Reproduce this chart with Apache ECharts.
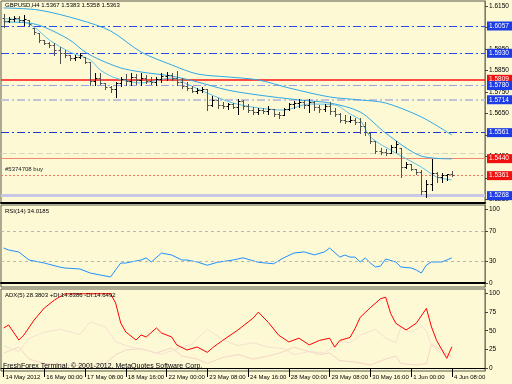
<!DOCTYPE html>
<html><head><meta charset="utf-8">
<script src="https://cdn.jsdelivr.net/npm/echarts@6/dist/echarts.min.js"></script>
<style>html,body{margin:0;padding:0;background:#FDF9D5;}#c{width:512px;height:384px;}</style>
</head><body><div id="c"></div>
<script>
const FONT = "'Liberation Sans', Arial, sans-serif";
const timeLabels = ['14 May 2012','16 May 00:00','17 May 08:00','18 May 16:00','22 May 00:00','23 May 08:00','24 May 16:00','28 May 00:00','29 May 08:00','30 May 16:00','1 Jun 00:00','4 Jun 08:00'];
const priceTicks = [1.5250,1.5350,1.5450,1.5550,1.5650,1.5750,1.5850,1.5950,1.6050,1.6150];
const rsiTicks = [0,30,70,100];
const adxTicks = [0,25,50,75,100];
const rsiLevels = [70,30];
// [open, high, low, close] per H4 bar
const bars = [
[1.6094,1.6113,1.6052,1.6080],[1.6080,1.6099,1.6076,1.6090],[1.6090,1.6104,1.6080,1.6094],[1.6094,1.6104,1.6076,1.6085],
[1.6085,1.6108,1.6062,1.6090],[1.6085,1.6085,1.6062,1.6066],[1.6048,1.6048,1.6020,1.6029],[1.6024,1.6024,1.5983,1.5992],
[1.5992,1.5992,1.5973,1.5978],[1.5978,1.5983,1.5959,1.5969],[1.5969,1.5978,1.5922,1.5945],[1.5945,1.5959,1.5885,1.5931],
[1.5931,1.5945,1.5913,1.5922],[1.5922,1.5922,1.5899,1.5908],[1.5908,1.5922,1.5899,1.5913],[1.5913,1.5931,1.5908,1.5922],
[1.5913,1.5913,1.5885,1.5890],[1.5890,1.5890,1.5783,1.5801],[1.5801,1.5838,1.5783,1.5815],[1.5815,1.5838,1.5787,1.5792],
[1.5792,1.5792,1.5764,1.5773],[1.5773,1.5778,1.5750,1.5764],[1.5764,1.5797,1.5727,1.5792],[1.5792,1.5820,1.5778,1.5810],
[1.5810,1.5834,1.5783,1.5801],[1.5801,1.5838,1.5783,1.5820],[1.5820,1.5834,1.5787,1.5806],[1.5806,1.5838,1.5783,1.5815],
[1.5815,1.5829,1.5792,1.5801],[1.5801,1.5820,1.5787,1.5797],[1.5797,1.5820,1.5783,1.5810],[1.5810,1.5838,1.5797,1.5824],
[1.5824,1.5843,1.5806,1.5829],[1.5829,1.5838,1.5806,1.5815],[1.5815,1.5848,1.5783,1.5797],[1.5797,1.5815,1.5769,1.5778],
[1.5778,1.5797,1.5759,1.5769],[1.5769,1.5778,1.5750,1.5755],[1.5755,1.5769,1.5745,1.5759],[1.5759,1.5773,1.5750,1.5764],
[1.5764,1.5764,1.5666,1.5690],[1.5690,1.5732,1.5685,1.5713],[1.5713,1.5722,1.5676,1.5690],[1.5690,1.5704,1.5676,1.5685],
[1.5685,1.5699,1.5671,1.5694],[1.5694,1.5699,1.5676,1.5680],[1.5680,1.5718,1.5648,1.5708],[1.5708,1.5713,1.5671,1.5685],
[1.5685,1.5694,1.5657,1.5666],[1.5666,1.5680,1.5648,1.5657],[1.5657,1.5676,1.5648,1.5666],[1.5666,1.5676,1.5652,1.5662],
[1.5662,1.5685,1.5648,1.5671],[1.5671,1.5671,1.5638,1.5648],[1.5648,1.5657,1.5629,1.5643],[1.5643,1.5676,1.5643,1.5671],
[1.5671,1.5699,1.5666,1.5694],[1.5694,1.5708,1.5676,1.5699],[1.5699,1.5718,1.5680,1.5704],[1.5704,1.5713,1.5676,1.5690],
[1.5690,1.5718,1.5657,1.5704],[1.5704,1.5708,1.5666,1.5680],[1.5680,1.5690,1.5657,1.5671],[1.5671,1.5694,1.5662,1.5685],
[1.5685,1.5704,1.5648,1.5662],[1.5662,1.5676,1.5638,1.5648],[1.5648,1.5652,1.5611,1.5620],[1.5620,1.5643,1.5606,1.5615],
[1.5615,1.5638,1.5611,1.5620],[1.5620,1.5629,1.5601,1.5611],[1.5611,1.5629,1.5559,1.5590],[1.5590,1.5611,1.5550,1.5564],
[1.5559,1.5559,1.5513,1.5522],[1.5522,1.5522,1.5466,1.5476],[1.5476,1.5490,1.5462,1.5471],[1.5471,1.5485,1.5457,1.5466],
[1.5466,1.5504,1.5466,1.5495],[1.5495,1.5522,1.5471,1.5508],[1.5490,1.5490,1.5355,1.5401],[1.5401,1.5425,1.5397,1.5415],
[1.5415,1.5415,1.5387,1.5392],[1.5392,1.5392,1.5369,1.5378],[1.5378,1.5387,1.5276,1.5290],[1.5290,1.5341,1.5262,1.5320],
[1.5320,1.5439,1.5294,1.5373],[1.5373,1.5378,1.5332,1.5355],[1.5355,1.5373,1.5332,1.5364],[1.5364,1.5369,1.5341,1.5367],
[1.5367,1.5383,1.5358,1.5363]
];
const maSlow = [[0,1.6141],[7,1.6131],[15,1.6085],[21,1.6034],[27,1.5936],[33,1.5876],[38,1.5834],[44,1.5820],[50,1.5806],[56,1.5769],[64,1.5727],[70,1.5713],[75,1.5699],[82,1.5634],[88,1.5550]];
const maMid = [[0,1.6076],[5,1.6071],[8,1.6052],[13,1.5992],[16,1.5936],[19,1.5899],[23,1.5862],[27,1.5843],[33,1.5824],[38,1.5797],[44,1.5759],[50,1.5736],[58,1.5713],[64,1.5699],[70,1.5657],[75,1.5559],[82,1.5452],[88,1.5439]];
const maFast = [[0,1.6090],[3,1.6085],[6,1.6052],[9,1.5992],[13,1.5936],[17,1.5899],[19,1.5852],[22,1.5815],[27,1.5792],[33,1.5815],[36,1.5787],[40,1.5745],[45,1.5699],[50,1.5676],[55,1.5666],[60,1.5694],[65,1.5690],[68,1.5648],[70,1.5620],[72,1.5541],[77,1.5466],[82,1.5401],[85,1.5355],[88,1.5341]];
const levels = [1.6057,1.5930,1.5809,1.5780,1.5714,1.5561,1.5440,1.5361,1.5268];
const faintLevel = 1.5466;
const orderText = '#5374708 buy';
const rsi = [[0,47.3],[1,44.6],[3,41.9],[5,31.1],[8,27],[11,21.6],[12,20.3],[15,18.9],[17,13.5],[19,10.8],[21,8.1],[22,17.6],[23,27],[24,27],[25,28.4],[27,31.1],[28,33.8],[29,28.4],[31,40.5],[33,37.8],[35,31.1],[36,31.1],[38,28.4],[40,24],[42,28],[45,31],[47,34],[50,28],[53,26],[55,34],[57,40.5],[59,42],[61,38],[63,42],[64,47.3],[66,35],[67,37.8],[68,35],[69,35],[70,28.4],[71,33.8],[72,27],[73,21.6],[74,23],[75,32.4],[77,28.4],[78,21.6],[80,20.3],[81,17.6],[82,13.5],[83,24.3],[84,28.4],[86,28.4],[87,31.1],[88,34.02]];
const adx = [[0,53.7],[1,57.7],[3,37.6],[4,44.3],[6,64.4],[8,80.5],[10,91.3],[12,99.5],[14,99.5],[17,99.7],[21,99.7],[22,87.2],[23,60.4],[24,48.3],[26,37.6],[27,44.3],[28,41.6],[30,53.7],[31,47],[33,41.6],[34,30.9],[36,24.2],[38,28.2],[40,21],[41,27],[43,37],[46,51],[49,67],[50,75],[52,61],[54,44],[56,35],[58,40],[60,31],[62,37],[64,40],[65,28],[66,37],[68,41],[69,53],[70,68],[72,81],[74,93],[75,95],[76,73],[77,60],[79,51],[81,60],[83,80],[84,55],[85,37],[87,13],[88,28.38]];
const plusDI = [[0,20],[3,28],[5,12],[8,6],[12,4],[17,3],[20,6],[22,18],[24,24],[27,26],[30,20],[33,27],[35,16],[38,12],[40,6],[43,14],[46,18],[49,12],[52,16],[55,22],[57,28],[59,24],[62,18],[64,20],[66,10],[69,8],[72,4],[75,12],[77,16],[78,6],[81,4],[83,6],[84,32],[86,24],[88,14.84]];
const minusDI = [[0,30],[3,22],[5,40],[8,48],[11,52],[15,45],[17,62],[20,55],[22,35],[25,28],[28,24],[31,18],[34,26],[37,32],[40,52],[43,38],[46,30],[49,34],[52,28],[55,26],[57,18],[60,22],[63,20],[66,36],[68,34],[70,44],[73,52],[75,40],[77,34],[78,55],[80,48],[82,56],[83,50],[84,30],[86,20],[88,14.65]];
const titleText = 'GBPUSD,H4 1.5367 1.5383 1.5358 1.5363';
const rsiText = 'RSI(14) 34.0185';
const adxText = 'ADX(5) 28.3803 +DI:14.8386 -DI:14.6492';
const footerText = 'FreshForex Terminal, \u00A9 2001-2012, MetaQuotes Software Corp.';

const NCAT = 95;
const cats = [];
for (let i = 0; i < NCAT; i++) cats.push(i % 8 === 0 && i / 8 < timeLabels.length ? timeLabels[i / 8] : '');

const BLUE = '#1E3CE6', RED = '#F01010';
const DD = [8,3,2,3];
const lvlStyle = [
  {c:'#2C4CF4', t:DD, w:1, bg:BLUE},
  {c:'#2C4CF4', t:DD, w:1, bg:BLUE},
  {c:'#FF1010', t:'solid', w:1.5, bg:RED},
  {c:'#9C9CF0', t:DD, w:1, bg:BLUE},
  {c:'#C4C4D8', t:DD, w:2, bg:BLUE},
  {c:'#1C38D8', t:DD, w:1, bg:BLUE},
  {c:'#F08870', t:'solid', w:1, bg:RED},
  {c:'#F07860', t:[2,2], w:1, bg:RED},
  {c:'#C8C8E6', t:'solid', w:3, bg:BLUE}
];
const mlData = levels.map((v, k) => ({
  yAxis: v,
  lineStyle: {color: lvlStyle[k].c, type: lvlStyle[k].t, width: lvlStyle[k].w},
  label: {show: true, position: 'end', distance: 2, formatter: v.toFixed(4),
    color: '#fff', backgroundColor: lvlStyle[k].bg, padding: [1,4,1,2], fontSize: 6.5, fontFamily: FONT}
}));
mlData.push({yAxis: faintLevel, lineStyle: {color: '#D8D3BC', type: [6,3], width: 1}, label: {show: false}});
mlData.push({yAxis: levels[7], lineStyle: {color: 'rgba(0,0,0,0)', width: 1},
  label: {show: true, position: 'insideStartTop', distance: [4, 3], formatter: orderText, color: '#222', fontSize: 6, fontFamily: FONT}});

function renderBar(params, api) {
  const i = api.value(0);
  const o = api.value(1), h = api.value(2), l = api.value(3), c = api.value(4);
  const pH = api.coord([i, h]), pL = api.coord([i, l]), pO = api.coord([i, o]), pC = api.coord([i, c]);
  const x = Math.round(pH[0]) + 0.5;
  const col = c >= o ? '#000' : '#505050';
  const st = {stroke: col, lineWidth: 1};
  const yo = Math.round(pO[1]) + 0.5, yc = Math.round(pC[1]) + 0.5;
  return {type: 'group', children: [
    {type: 'line', shape: {x1: x, y1: Math.round(pH[1]), x2: x, y2: Math.round(pL[1]) + 1}, style: st},
    {type: 'line', shape: {x1: x - 2, y1: yo, x2: x, y2: yo}, style: st},
    {type: 'line', shape: {x1: x, y1: yc, x2: x + 2, y2: yc}, style: st}
  ]};
}

const lblInt = (idx, val) => val !== '';
const hiddenX = g => ({gridIndex: g, type: 'category', data: cats, boundaryGap: true,
  axisLabel: {show: false}, axisTick: {show: false}, axisLine: {show: true, lineStyle: {color: '#000', width: 2}}});
const rightY = (g, min, max, ticks, fmt) => ({gridIndex: g, type: 'value', position: 'right', min: min, max: max,
  axisLine: {show: true, lineStyle: {color: '#7A7A7A'}},
  axisTick: {show: true, length: 3, customValues: ticks, lineStyle: {color: '#444'}},
  axisLabel: {show: true, customValues: ticks, formatter: fmt, margin: 4, color: '#000', fontSize: 6.5, fontFamily: FONT,
    showMinLabel: true, showMaxLabel: true},
  splitLine: {show: false}});

const chart = echarts.init(document.getElementById('c'), null, {renderer: 'canvas', width: 512, height: 384});
chart.setOption({
  animation: false,
  backgroundColor: '#FDF9D5',
  grid: [
    {left: 1, right: 27, top: 1, height: 202, show: true, borderColor: '#5A5A4A', borderWidth: 1},
    {left: 1, right: 27, top: 205, height: 82, show: true, borderColor: '#5A5A4A', borderWidth: 1},
    {left: 1, right: 27, top: 289, height: 82, show: true, borderColor: '#5A5A4A', borderWidth: 1}
  ],
  xAxis: [hiddenX(0), hiddenX(1), {
    gridIndex: 2, type: 'category', data: cats, boundaryGap: true,
    axisLine: {show: true, lineStyle: {color: '#000', width: 1}},
    axisTick: {show: true, alignWithLabel: true, interval: lblInt, length: 9, lineStyle: {color: '#000'}},
    axisLabel: {show: true, interval: lblInt, align: 'left', margin: 3, padding: [0,0,0,2], color: '#000', fontSize: 6, fontFamily: FONT, hideOverlap: false}
  }],
  yAxis: [
    rightY(0, 1.523372, 1.617326, priceTicks, v => Number(v).toFixed(4)),
    rightY(1, -5.405, 105.405, rsiTicks, v => String(Math.round(v))),
    rightY(2, -4.03, 106.04, adxTicks, v => String(Math.round(v)))
  ],
  graphic: [
    {type: 'text', left: 5, top: 2, z: 100, style: {text: titleText, fill: '#000', fontSize: 6, fontFamily: FONT}},
    {type: 'text', left: 5, top: 208, z: 100, style: {text: rsiText, fill: '#000', fontSize: 6, fontFamily: FONT}},
    {type: 'text', left: 5, top: 292, z: 100, style: {text: adxText, fill: '#000', fontSize: 6, fontFamily: FONT}},
    {type: 'text', left: 3, top: 363, z: 100, style: {text: footerText, fill: '#000', fontSize: 7, fontFamily: FONT}}
  ],
  series: [
    {type: 'line', xAxisIndex: 0, yAxisIndex: 0, data: maSlow, symbol: 'none', smooth: 0.3, lineStyle: {color: '#2FA8E6', width: 1}, z: 3},
    {type: 'line', xAxisIndex: 0, yAxisIndex: 0, data: maMid, symbol: 'none', smooth: 0.3, lineStyle: {color: '#2FA8E6', width: 1}, z: 3},
    {type: 'line', xAxisIndex: 0, yAxisIndex: 0, data: maFast, symbol: 'none', smooth: 0.3, lineStyle: {color: '#5EC2EC', width: 1}, z: 3},
    {type: 'custom', xAxisIndex: 0, yAxisIndex: 0, renderItem: renderBar, z: 4,
      data: bars.map((b, i) => [i, b[0], b[1], b[2], b[3]]), encode: {x: 0, y: [1,2,3,4]},
      markLine: {silent: true, precision: 4, symbol: ['none','none'], animation: false, z: 2, data: mlData}},
    {type: 'line', xAxisIndex: 1, yAxisIndex: 1, data: rsi, symbol: 'none', lineStyle: {color: '#1E90FF', width: 1},
      markLine: {silent: true, symbol: ['none','none'], label: {show: false},
        lineStyle: {color: '#B8B8B0', type: [3,3], width: 1}, data: rsiLevels.map(v => ({yAxis: v}))}},
    {type: 'line', xAxisIndex: 2, yAxisIndex: 2, data: plusDI, symbol: 'none', lineStyle: {color: '#F4D6C6', width: 1}},
    {type: 'line', xAxisIndex: 2, yAxisIndex: 2, data: minusDI, symbol: 'none', lineStyle: {color: '#F6E0D2', width: 1}},
    {type: 'line', xAxisIndex: 2, yAxisIndex: 2, data: adx, symbol: 'none', lineStyle: {color: '#FF0000', width: 1}}
  ]
});
</script>
</body></html>
